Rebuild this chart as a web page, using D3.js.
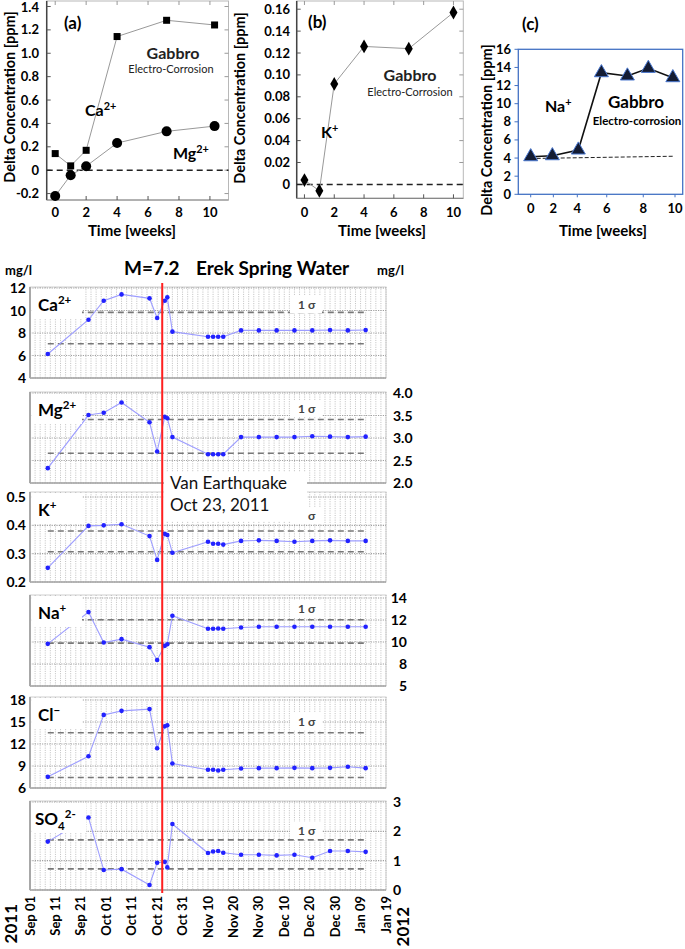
<!DOCTYPE html>
<html>
<head>
<meta charset="utf-8">
<script src="https://cdn.jsdelivr.net/npm/d3@7"></script>
<style>
  html, body { margin: 0; padding: 0; background: #fff; }
  svg { display: block; }
  text { font-family: Lato, "Open Sans", sans-serif; }
</style>
</head>
<body>
<svg id="chart" width="685" height="949"></svg>
<script>
// ---------------- DATA ----------------
// Panel (a)
const aWeeks = [0, 1, 2, 4, 7.2, 10.3];
const aCa = [0.142, 0.037, 0.17, 1.143, 1.282, 1.242];
const aMg = [-0.221, -0.043, 0.034, 0.232, 0.332, 0.377];
const aYTicks = [-0.2, 0, 0.2, 0.4, 0.6, 0.8, 1.0, 1.2, 1.4];
const aYLabels = ["-0.2", "0", "0.2", "0.4", "0.6", "0.8", "1.0", "1.2", "1.4"];
const weekTicks = [0, 2, 4, 6, 8, 10];
// Panel (b)
const bWeeks = [0, 1, 2, 4, 7, 10];
const bK = [0.0039, -0.0058, 0.0918, 0.126, 0.124, 0.157];
const bYTicks = [0, 0.02, 0.04, 0.06, 0.08, 0.10, 0.12, 0.14, 0.16];
const bYLabels = ["0", "0.02", "0.04", "0.06", "0.08", "0.10", "0.12", "0.14", "0.16"];
// Panel (c)
const cWeeks = [0, 1.5, 3.3, 4.9, 6.7, 8.15, 9.85];
const cNa = [4.15, 4.26, 4.89, 13.42, 13.06, 13.9, 12.87];
const cBaseWeeks = [0, 9.9];
const cBaseVals = [3.95, 4.2];
const cYTicks = [0, 2, 4, 6, 8, 10, 12, 14, 16];
const cXTickPos = [0, 1.57, 3.23, 5.27, 7.8, 10];
const cXTickLabels = ["0", "2", "4", "6", "8", "10"];

// Erek spring water time series
const sampleDates = ["2011-09-08", "2011-09-24", "2011-09-30", "2011-10-07", "2011-10-18",
  "2011-10-21", "2011-10-24", "2011-10-25", "2011-10-27", "2011-11-10", "2011-11-12",
  "2011-11-14", "2011-11-16", "2011-11-23", "2011-11-30", "2011-12-07", "2011-12-14",
  "2011-12-21", "2011-12-28", "2012-01-04", "2012-01-11"];
const caVals = [6.13, 9.18, 10.87, 11.43, 11.08, 9.33, 10.87, 11.17, 8.12, 7.67, 7.67, 7.67, 7.67,
  8.23, 8.23, 8.23, 8.23, 8.23, 8.26, 8.23, 8.26];
const mgVals = [2.33, 3.51, 3.56, 3.79, 3.35, 2.70, 3.47, 3.44, 3.02, 2.64, 2.64, 2.64, 2.64,
  3.02, 3.02, 3.02, 3.02, 3.04, 3.03, 3.02, 3.03];
const kVals = [0.25, 0.398, 0.40, 0.404, 0.362, 0.278, 0.37, 0.366, 0.303, 0.342, 0.335, 0.335, 0.332,
  0.345, 0.347, 0.345, 0.342, 0.345, 0.347, 0.345, 0.345];
const naVals = [9.83, 12.72, 9.95, 10.26, 9.53, 8.37, 9.65, 9.8, 12.39, 11.2, 11.2, 11.23, 11.2,
  11.32, 11.38, 11.38, 11.38, 11.38, 11.38, 11.38, 11.38];
const clVals = [7.52, 10.32, 15.97, 16.52, 16.76, 11.42, 14.41, 14.55, 9.35, 8.48, 8.48, 8.39, 8.48,
  8.66, 8.71, 8.71, 8.75, 8.71, 8.75, 8.9, 8.71];
const so4Vals = [1.65, 2.47, 0.68, 0.71, 0.17, 0.93, 0.96, 0.77, 2.25, 1.26, 1.31, 1.33, 1.27,
  1.2, 1.2, 1.18, 1.2, 1.1, 1.33, 1.33, 1.3];

const caSigma = [7.05, 9.83];
const mgSigma = [2.66, 3.41];
const kSigma = [0.307, 0.38];
const naSigma = [9.9, 12.02];
const clSigma = [7.43, 13.54];
const so4Sigma = [0.72, 1.71];

const caTicks = [4, 6, 8, 10, 12];
const mgTicks = [2.0, 2.5, 3.0, 3.5, 4.0];
const mgTickLabels = ["2.0", "2.5", "3.0", "3.5", "4.0"];
const kTicks = [0.2, 0.3, 0.4, 0.5];
const naTicks = [6, 8, 10, 12, 14];
const naTickLabels = ["5", "8", "10", "12", "14"];
const clTicks = [6, 9, 12, 15, 18];
const so4Ticks = [0, 1, 2, 3];

const quakeDate = "2011-10-23";
const dateTickLabels = ["Sep 01", "Sep 11", "Sep 21", "Oct 01", "Oct 11", "Oct 21", "Oct 31",
  "Nov 10", "Nov 20", "Nov 30", "Dec 10", "Dec 20", "Dec 30", "Jan 09", "Jan 19"];

// ---------------- DRAW ----------------
const svg = d3.select("#chart");
const parse = d3.timeParse("%Y-%m-%d");
const BOLD = "700";

function addText(g, x, y, txt, size, opts = {}) {
  return g.append("text").attr("x", x).attr("y", y).text(txt)
    .attr("font-size", size).attr("font-weight", opts.weight || BOLD)
    .attr("text-anchor", opts.anchor || "start").attr("fill", opts.fill || "#000");
}
function ionLabel(g, x, y, base, sup, size, sub) {
  const t = g.append("text").attr("x", x).attr("y", y).attr("font-size", size)
    .attr("font-weight", BOLD).attr("fill", "#000");
  t.append("tspan").text(base);
  if (sub) {
    t.append("tspan").attr("dy", size * 0.3).attr("font-size", size * 0.68).text(sub);
    t.append("tspan").attr("dy", -size * 0.72).attr("font-size", size * 0.68).text(sup);
  } else {
    t.append("tspan").attr("dy", -size * 0.4).attr("font-size", size * 0.68).text(sup);
  }
  return t;
}

// ----- Top panels common frame -----
function frame(g, x, y, xTicks, yTicks, leftColor) {
  const [x0, x1] = x.range(), [y0, y1] = y.range();
  g.append("rect").attr("x", x0).attr("y", y1).attr("width", x1 - x0).attr("height", y0 - y1)
    .attr("fill", "none").attr("stroke", "#b8b8b8").attr("stroke-width", 1);
  g.append("line").attr("x1", x0).attr("x2", x0).attr("y1", y1).attr("y2", y0)
    .attr("stroke", leftColor).attr("stroke-width", 1.5);
  g.append("line").attr("x1", x0).attr("x2", x1).attr("y1", y0).attr("y2", y0)
    .attr("stroke", "#888").attr("stroke-width", 1.2);
  yTicks.forEach(v => {
    g.append("line").attr("x1", x0).attr("x2", x0 + 4).attr("y1", y(v)).attr("y2", y(v)).attr("stroke", "#555");
    g.append("line").attr("x1", x1).attr("x2", x1 - 4).attr("y1", y(v)).attr("y2", y(v)).attr("stroke", "#999");
  });
  xTicks.forEach(v => {
    g.append("line").attr("x1", x(v)).attr("x2", x(v)).attr("y1", y0).attr("y2", y0 - 4).attr("stroke", "#555");
    g.append("line").attr("x1", x(v)).attr("x2", x(v)).attr("y1", y1).attr("y2", y1 + 4).attr("stroke", "#999");
  });
}

// ----- Panel (a) -----
{
  const g = svg.append("g");
  const x = d3.scaleLinear().domain([-0.55, 11.2]).range([46.7, 228.5]);
  const y = d3.scaleLinear().domain([-0.255, 1.447]).range([200, 1]);
  frame(g, x, y, weekTicks, aYTicks, "#444");
  aYTicks.forEach((v, i) => addText(g, 39, Math.max(y(v) + 4.5, 12), aYLabels[i], 13, { anchor: "end" }));
  weekTicks.forEach(v => addText(g, x(v), 217, String(v), 13, { anchor: "middle" }));
  g.append("line").attr("x1", x.range()[0]).attr("x2", x.range()[1]).attr("y1", y(0)).attr("y2", y(0))
    .attr("stroke", "#222").attr("stroke-width", 1.5).attr("stroke-dasharray", "6,4");
  const line = d3.line().x((d, i) => x(aWeeks[i])).y(d => y(d));
  g.append("path").attr("d", line(aCa)).attr("fill", "none").attr("stroke", "#999").attr("stroke-width", 1);
  g.append("path").attr("d", line(aMg)).attr("fill", "none").attr("stroke", "#999").attr("stroke-width", 1);
  g.selectAll(".sq").data(aCa).join("rect").attr("x", (d, i) => x(aWeeks[i]) - 3.5)
    .attr("y", d => y(d) - 3.5).attr("width", 7).attr("height", 7).attr("fill", "#000");
  g.selectAll(".ci").data(aMg).join("circle").attr("cx", (d, i) => x(aWeeks[i]))
    .attr("cy", d => y(d)).attr("r", 5).attr("fill", "#000");
  addText(g, 64, 29, "(a)", 17);
  addText(g, 173, 59, "Gabbro", 16, { anchor: "middle", fill: "#222" });
  addText(g, 171, 73, "Electro-Corrosion", 11, { anchor: "middle", weight: "400", fill: "#222" });
  ionLabel(g, 85, 116, "Ca", "2+", 16);
  ionLabel(g, 173, 159, "Mg", "2+", 16);
  g.append("text").attr("transform", "translate(15,97) rotate(-90)").attr("text-anchor", "middle")
    .attr("font-size", 14.5).attr("font-weight", BOLD).text("Delta Concentration [ppm]");
  addText(g, 132, 236, "Time [weeks]", 15, { anchor: "middle" });
}

// ----- Panel (b) -----
{
  const g = svg.append("g");
  const x = d3.scaleLinear().domain([-0.52, 10.66]).range([296.7, 463.3]);
  const y = d3.scaleLinear().domain([-0.0127, 0.1675]).range([198.3, 1]);
  frame(g, x, y, weekTicks, bYTicks, "#444");
  bYTicks.forEach((v, i) => addText(g, 290, Math.max(y(v) + 4.5, 12), bYLabels[i], 13, { anchor: "end" }));
  weekTicks.forEach(v => addText(g, x(v), 217, String(v), 13, { anchor: "middle" }));
  g.append("line").attr("x1", x.range()[0]).attr("x2", x.range()[1]).attr("y1", y(0)).attr("y2", y(0))
    .attr("stroke", "#222").attr("stroke-width", 1.5).attr("stroke-dasharray", "6,4");
  const line = d3.line().x((d, i) => x(bWeeks[i])).y(d => y(d));
  g.append("path").attr("d", line(bK)).attr("fill", "none").attr("stroke", "#999").attr("stroke-width", 1);
  g.selectAll(".dm").data(bK).join("path")
    .attr("transform", (d, i) => `translate(${x(bWeeks[i])},${y(d)})`)
    .attr("d", d3.symbol().type(d3.symbolDiamond).size(55)).attr("fill", "#000");
  addText(g, 308, 28, "(b)", 17);
  addText(g, 410, 81, "Gabbro", 16, { anchor: "middle", fill: "#222" });
  addText(g, 410, 96, "Electro-Corrosion", 11, { anchor: "middle", weight: "400", fill: "#222" });
  ionLabel(g, 321, 138, "K", "+", 16);
  g.append("text").attr("transform", "translate(245,98) rotate(-90)").attr("text-anchor", "middle")
    .attr("font-size", 14.5).attr("font-weight", BOLD).text("Delta Concentration [ppm]");
  addText(g, 382, 236, "Time [weeks]", 15, { anchor: "middle" });
}

// ----- Panel (c) -----
{
  const g = svg.append("g");
  const x = d3.scaleLinear().domain([0, 10]).range([530.7, 675]);
  const y = d3.scaleLinear().domain([0, 16]).range([194.3, 49.3]);
  g.append("rect").attr("x", 518.3).attr("y", y(16)).attr("width", 682.7 - 518.3).attr("height", y(0) - y(16))
    .attr("fill", "none").attr("stroke", "#4472c4").attr("stroke-width", 1.3);
  cYTicks.forEach(v => {
    g.append("line").attr("x1", 518.3).attr("x2", 514.5).attr("y1", y(v)).attr("y2", y(v)).attr("stroke", "#4472c4");
    addText(g, 511, y(v) + 4.5, String(v), 13, { anchor: "end" });
  });
  cXTickPos.forEach((v, i) => {
    g.append("line").attr("x1", x(v)).attr("x2", x(v)).attr("y1", y(0)).attr("y2", y(0) + 3).attr("stroke", "#4472c4");
    addText(g, x(v), 213, cXTickLabels[i], 13, { anchor: "middle" });
  });
  g.append("line").attr("x1", x(cBaseWeeks[0])).attr("x2", x(cBaseWeeks[1]))
    .attr("y1", y(cBaseVals[0])).attr("y2", y(cBaseVals[1]))
    .attr("stroke", "#222").attr("stroke-width", 1).attr("stroke-dasharray", "4,2");
  const line = d3.line().x((d, i) => x(cWeeks[i])).y(d => y(d));
  g.append("path").attr("d", line(cNa)).attr("fill", "none").attr("stroke", "#111").attr("stroke-width", 1.6);
  g.selectAll(".tr").data(cNa).join("path")
    .attr("transform", (d, i) => `translate(${x(cWeeks[i])},${y(d)})`)
    .attr("d", d3.symbol().type(d3.symbolTriangle).size(85))
    .attr("fill", "#141c33").attr("stroke", "#4a78d0").attr("stroke-width", 1);
  addText(g, 522, 30, "(c)", 17);
  ionLabel(g, 545, 112, "Na", "+", 16);
  addText(g, 636, 108, "Gabbro", 17, { anchor: "middle" });
  addText(g, 637, 125, "Electro-corrosion", 11.5, { anchor: "middle" });
  g.append("text").attr("transform", "translate(492,130) rotate(-90)").attr("text-anchor", "middle")
    .attr("font-size", 14.5).attr("font-weight", BOLD).text("Delta Concentration [ppm]");
  addText(g, 603, 236, "Time [weeks]", 15, { anchor: "middle" });
}

// ----- Erek Spring Water -----
const dates = sampleDates.map(parse);
const xT = d3.scaleTime().domain([parse("2011-09-01"), parse("2012-01-19")]).range([30, 386]);
const g2 = svg.append("g");

addText(g2, 5, 275, "mg/l", 13);
addText(g2, 377, 275, "mg/l", 13);
addText(g2, 124, 275, "M=7.2", 19);
addText(g2, 196, 275, "Erek Spring Water", 19);

const panels = [
  { name: "Ca", sup: "2+", vals: caVals, sigma: caSigma, ticks: caTicks, labels: caTicks.map(String),
    top: 287, y0: 378, y1: 288, side: "left", sigY: 18 },
  { name: "Mg", sup: "2+", vals: mgVals, sigma: mgSigma, ticks: mgTicks, labels: mgTickLabels,
    top: 392, y0: 483, y1: 393, side: "right", sigY: 17 },
  { name: "K", sup: "+", vals: kVals, sigma: kSigma, ticks: kTicks, labels: kTicks.map(String),
    top: 492, y0: 582, y1: 497, side: "left", sigY: 24 },
  { name: "Na", sup: "+", vals: naVals, sigma: naSigma, ticks: naTicks, labels: naTickLabels,
    top: 595, y0: 686, y1: 598, side: "rightEnd", sigY: 14 },
  { name: "Cl", sup: "\u2212", vals: clVals, sigma: clSigma, ticks: clTicks, labels: clTicks.map(String),
    top: 697, y0: 788, y1: 700, side: "left", sigY: 25 },
  { name: "SO", sub: "4", sup: "2-", vals: so4Vals, sigma: so4Sigma, ticks: so4Ticks, labels: so4Ticks.map(String),
    top: 801, y0: 890, y1: 802, side: "right", sigY: 30 }
];

const [xL, xR] = xT.range();
const startDay = xT.domain()[0];
const minorDays = d3.range(0, 141, 2).map(k => d3.timeDay.offset(startDay, k));

panels.forEach(p => {
  const y = d3.scaleLinear().domain([p.ticks[0], p.ticks[p.ticks.length - 1]]).range([p.y0, p.y1]);
  const g = g2.append("g");
  g.append("rect").attr("x", xL).attr("y", p.top).attr("width", xR - xL).attr("height", p.y0 - p.top)
    .attr("fill", "#fff").attr("stroke", "#d0d0d0").attr("stroke-width", 1);
  g.selectAll(".vg").data(minorDays).join("line")
    .attr("x1", d => xT(d)).attr("x2", d => xT(d)).attr("y1", p.top).attr("y2", p.y0)
    .attr("stroke", "#b0b0b0").attr("stroke-width", 0.8).attr("stroke-dasharray", "1,1.3");
  g.selectAll(".hg").data(p.ticks).join("line")
    .attr("x1", xL).attr("x2", xR).attr("y1", d => y(d)).attr("y2", d => y(d))
    .attr("stroke", "#a0a0a0").attr("stroke-width", 1.2).attr("stroke-dasharray", "1.2,1.2");
  g.append("line").attr("x1", xL).attr("x2", xL).attr("y1", p.top).attr("y2", p.y0)
    .attr("stroke", "#a8a8a8").attr("stroke-width", 2);
  g.append("line").attr("x1", xL).attr("x2", xR).attr("y1", p.y0).attr("y2", p.y0)
    .attr("stroke", "#a8a8a8").attr("stroke-width", 1.6);
  p.sigma.forEach(s => {
    g.append("line").attr("x1", xT(dates[0])).attr("x2", xT(dates[dates.length - 1]))
      .attr("y1", y(s)).attr("y2", y(s)).attr("stroke", "#777").attr("stroke-width", 1.6)
      .attr("stroke-dasharray", "6,4");
  });
  const sy = p.top + p.sigY;
  g.append("rect").attr("x", 290).attr("y", sy - 9).attr("width", 32).attr("height", 17).attr("fill", "#fff");
  addText(g, 298, sy + 4, "1 \u03c3", 12, { fill: "#444" });
  const line = d3.line().x((d, i) => xT(dates[i])).y(d => y(d));
  g.append("path").attr("d", line(p.vals)).attr("fill", "none").attr("stroke", "#9d9dff").attr("stroke-width", 1.1);
  g.selectAll(".pt").data(p.vals).join("circle")
    .attr("cx", (d, i) => xT(dates[i])).attr("cy", d => y(d)).attr("r", 2.3).attr("fill", "#2222ff");
  g.append("rect").attr("x", xL + 2).attr("y", p.top + 2).attr("width", p.sub ? 54 : 50).attr("height", 30).attr("fill", "#fff");
  ionLabel(g, p.sub ? 35 : 38, p.top + 24, p.name, p.sup, 17, p.sub);
  p.ticks.forEach((v, i) => {
    if (p.side === "left") addText(g, 26, y(v) + 5, p.labels[i], 14, { anchor: "end" });
    else if (p.side === "right") addText(g, 393, y(v) + 5, p.labels[i], 14);
    else addText(g, 407, y(v) + 5, p.labels[i], 14, { anchor: "end" });
  });
});

// date axis labels (every 10 days from Sep 01)
const dateTicks = dateTickLabels.map((lab, i) => d3.timeDay.offset(startDay, 10 * i));
dateTicks.forEach((d, i) => {
  g2.append("text").attr("transform", `translate(${xT(d) + 4.5},896) rotate(-90)`)
    .attr("text-anchor", "end").attr("font-size", 13).attr("font-weight", BOLD).text(dateTickLabels[i]);
});
g2.append("text").attr("transform", "translate(17,904) rotate(-90)").attr("text-anchor", "end")
  .attr("font-size", 17).attr("font-weight", BOLD).text("2011");
g2.append("text").attr("transform", "translate(409,907) rotate(-90)").attr("text-anchor", "end")
  .attr("font-size", 17).attr("font-weight", BOLD).text("2012");

// earthquake line
g2.append("line").attr("x1", xT(parse(quakeDate))).attr("x2", xT(parse(quakeDate)))
  .attr("y1", 283).attr("y2", 893).attr("stroke", "#ff1f1f").attr("stroke-width", 2);

// annotation box
g2.append("rect").attr("x", 164).attr("y", 472).attr("width", 143).attr("height", 49).attr("fill", "#fff");
addText(g2, 170, 489, "Van Earthquake", 17, { weight: "400", fill: "#111" });
addText(g2, 170, 511, "Oct 23, 2011", 17, { weight: "400", fill: "#111" });
</script>
</body>
</html>
